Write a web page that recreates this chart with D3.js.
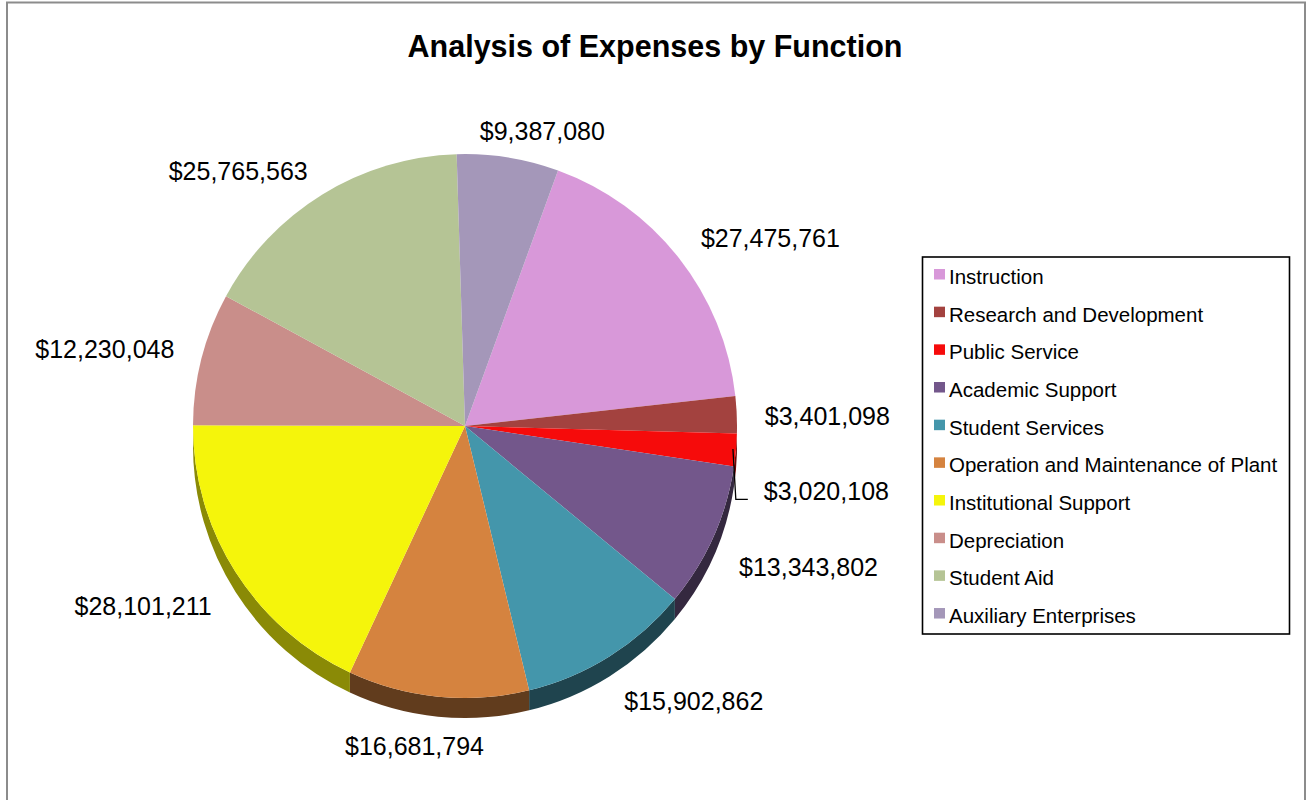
<!DOCTYPE html>
<html>
<head>
<meta charset="utf-8">
<script src="https://cdn.jsdelivr.net/npm/d3@7/dist/d3.min.js"></script>
<style>
  html, body { margin: 0; padding: 0; background: #fff; }
  svg { display: block; }
  text { font-family: Arial, "Liberation Sans", sans-serif; fill: #000; }
</style>
</head>
<body>
<svg id="chart" width="1307" height="800"></svg>
<script>
const title = "Analysis of Expenses by Function";
const categories = [
  "Instruction",
  "Research and Development",
  "Public Service",
  "Academic Support",
  "Student Services",
  "Operation and Maintenance of Plant",
  "Institutional Support",
  "Depreciation",
  "Student Aid",
  "Auxiliary Enterprises"
];
const values = [27475761, 3401098, 3020108, 13343802, 15902862, 16681794, 28101211, 12230048, 25765563, 9387080];
const colors = ["#D898D9", "#A3423F", "#F60B0B", "#73578B", "#4496AB", "#D5833F", "#F5F50B", "#C98E8A", "#B5C495", "#A497B9"];

const W = 1307, H = 800;
const svg = d3.select("#chart");

// outer frame
svg.append("rect")
  .attr("x", 7).attr("y", 2.5).attr("width", 1298).attr("height", 820)
  .attr("fill", "none").attr("stroke", "#8c8c8c").attr("stroke-width", 2);

// title
svg.append("text")
  .attr("x", 655).attr("y", 57)
  .attr("text-anchor", "middle")
  .style("font-size", "30.5px").style("font-weight", "bold")
  .text(title);

// pie geometry
const cx = 465, cy = 426, r = 272, depth = 20;
const startDeg = 20;
const a0 = startDeg * Math.PI / 180;
const pie = d3.pie().sort(null).value(d => d).startAngle(a0).endAngle(a0 + 2 * Math.PI);
const arcs = pie(values);
const arcGen = d3.arc().innerRadius(0).outerRadius(r);
const fmt = d3.format("$,");

const g = svg.append("g");

// side walls (visible in the lower half)
arcs.forEach((d, i) => {
  const s = Math.max(d.startAngle, Math.PI / 2);
  const e = Math.min(d.endAngle, 3 * Math.PI / 2);
  if (e <= s) return;
  const p = d3.path();
  p.moveTo(cx + r * Math.sin(s), cy - r * Math.cos(s));
  p.arc(cx, cy, r, s - Math.PI / 2, e - Math.PI / 2, false);
  p.lineTo(cx + r * Math.sin(e), cy + depth - r * Math.cos(e));
  p.arc(cx, cy + depth, r, e - Math.PI / 2, s - Math.PI / 2, true);
  p.closePath();
  const base = d3.color(colors[i]);
  g.append("path")
    .attr("d", p.toString())
    .attr("fill", base.darker(i === 6 ? 1.6 : 2.2).formatHex());
});

// top slices
g.selectAll("path.slice")
  .data(arcs)
  .join("path")
  .attr("class", "slice")
  .attr("transform", `translate(${cx},${cy})`)
  .attr("d", arcGen)
  .attr("fill", (d, i) => colors[i]);

// data labels
const fs = 25, lh = 25, Rx = 300, Ry = 290, yOff = 4;
const clamp = v => Math.max(-1, Math.min(1, v));
const labels = arcs.map((d, i) => {
  const m = (d.startAngle + d.endAngle) / 2;
  const ux = Math.sin(m), uy = -Math.cos(m);
  const t = svg.append("text").style("font-size", fs + "px").text(fmt(d.value));
  const w = t.node().getComputedTextLength();
  const lx = cx + Rx * ux + (w / 2) * clamp(3 * ux);
  const ly = cy + yOff + Ry * uy + (lh / 2) * clamp(3 * uy) + 0.75 * depth * Math.max(0, uy);
  return { i, m, ux, uy, w, t, x: lx, y: ly, y0: ly };
});
// keep labels on the same side apart vertically
[labels.filter(l => l.ux >= 0), labels.filter(l => l.ux < 0)].forEach(side => {
  side.sort((a, b) => a.y - b.y);
  for (let k = 1; k < side.length; k++) {
    if (side[k].y - side[k - 1].y < 75) side[k].y = side[k - 1].y + 75;
  }
});
labels.forEach(l => {
  l.t.attr("x", l.x).attr("y", l.y + 0.36 * fs).attr("text-anchor", "middle");
  if (Math.abs(l.y - l.y0) > 10) {
    const ex = cx + r * l.ux, ey = cy + r * l.uy;
    const left = l.x - l.w / 2;
    svg.append("polyline")
      .attr("points", [[ex - 3, ey - 1], [left - 28, l.y + 8], [left - 16, l.y + 8]].map(p => p.join(",")).join(" "))
      .attr("fill", "none").attr("stroke", "#000").attr("stroke-width", 1.3);
  }
});

// legend
const lgX = 922.5, lgY = 257, lgW = 367, lgH = 377;
svg.append("rect")
  .attr("x", lgX).attr("y", lgY).attr("width", lgW).attr("height", lgH)
  .attr("fill", "#fff").attr("stroke", "#000").attr("stroke-width", 1.6);
const step = 37.67;
const lg = svg.append("g");
categories.forEach((c, i) => {
  const base = 284 + i * step;
  lg.append("rect")
    .attr("x", 934).attr("y", base - 15).attr("width", 11).attr("height", 10.5)
    .attr("fill", colors[i]);
  lg.append("text")
    .attr("x", 949).attr("y", base)
    .style("font-size", "20.5px")
    .text(c);
});
</script>
</body>
</html>
